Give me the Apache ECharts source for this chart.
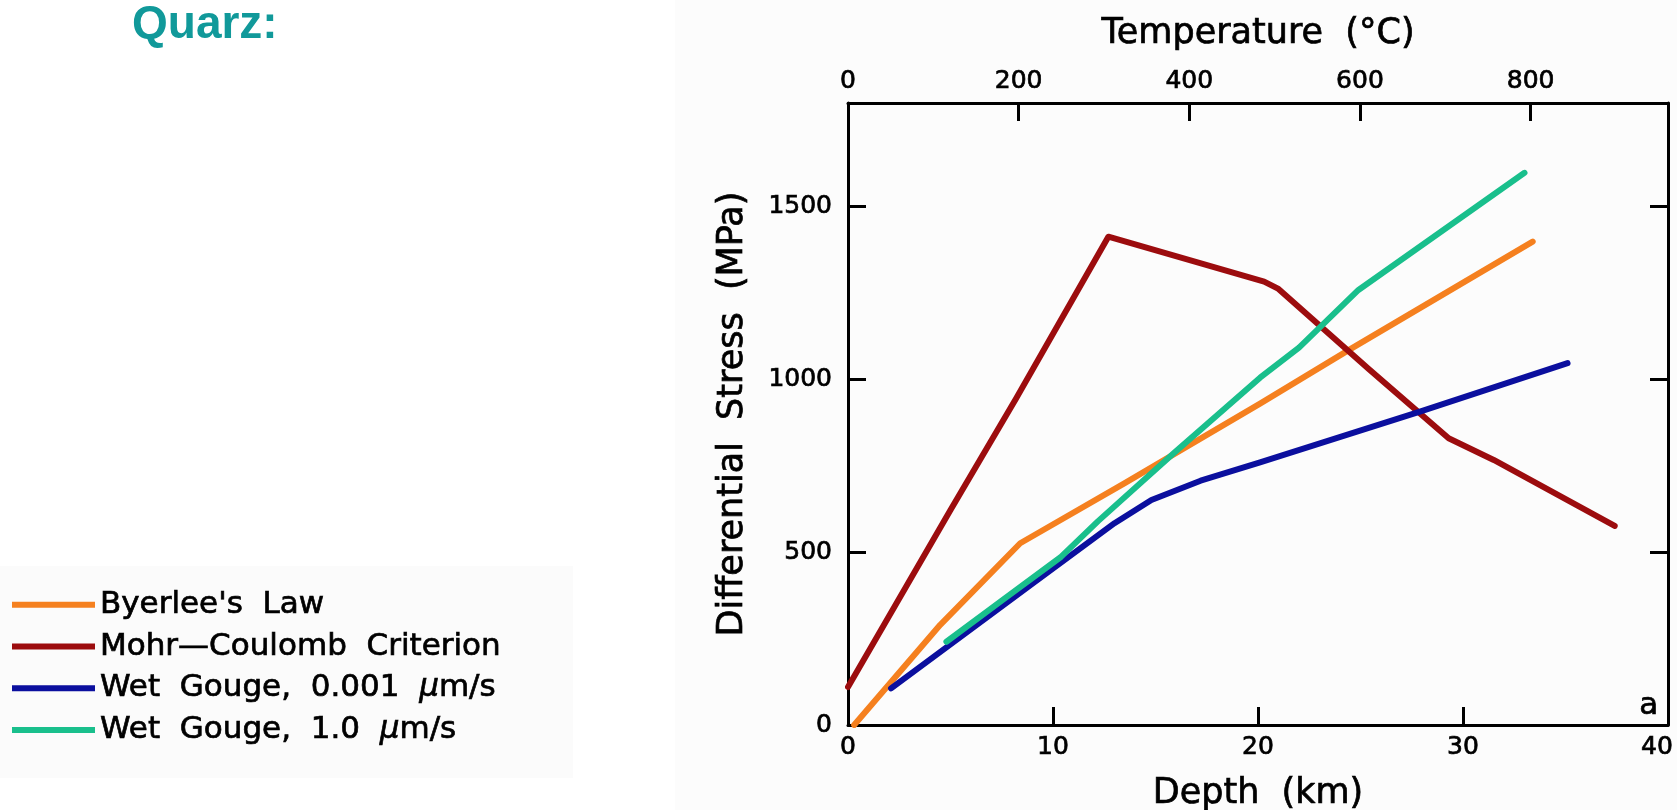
<!DOCTYPE html>
<html><head><meta charset="utf-8">
<style>html,body{margin:0;padding:0;background:#fff}#c{width:1677px;height:810px}</style>
<script src="https://cdn.jsdelivr.net/npm/echarts@6/dist/echarts.min.js"></script>
</head><body><div id="c"></div>
<script>
// ---- data ----
const seriesNames = ["Byerlee's Law", "Mohr—Coulomb Criterion", "Wet Gouge, 0.001 μm/s", "Wet Gouge, 1.0 μm/s"];
const seriesColors = ["#f5801f", "#9c0c0e", "#0b0f9e", "#19bf8c"];

const byerleeDepth  = [0.3, 4.5, 8.4, 13.5, 20.1, 24.4, 33.4];
const byerleeStress = [0, 290, 526, 700, 930, 1084, 1399];

const mohrDepth  = [0, 2.5, 5.0, 8.2, 12.7, 20.3, 21.0, 25.4, 29.3, 31.5, 37.4];
const mohrStress = [110, 366, 622, 945, 1413, 1283, 1262, 1030, 830, 767, 576];

const gouge001Depth  = [2.1, 9.0, 13.0, 14.8, 17.2, 20.1, 27.9, 35.1];
const gouge001Stress = [106, 409, 584, 651, 707, 760, 907, 1047];

const gouge1Depth  = [4.8, 7.5, 10.4, 12.2, 15.9, 20.1, 22.0, 24.9, 33.0];
const gouge1Stress = [241, 360, 487, 590, 787, 1005, 1092, 1259, 1598];

const depthRange  = [0, 40];   const depthStep = 10;
const stressRange = [0, 1800]; const stressStep = 500;
const tempRange   = [0, 961];  const tempStep = 200;

const pairs = (xs, ys) => xs.map((x, i) => [x, ys[i]]);

const font = 'DejaVu Sans';
const heavy = { textBorderColor: '#000', textBorderWidth: 0.7 };
const axisCommon = {
  type: 'value',
  axisLine: { onZero: false, lineStyle: { color: '#000', width: 3 } },
  axisTick: { inside: true, length: 18, lineStyle: { color: '#000', width: 3 } },
  axisLabel: Object.assign({ color: '#000', fontSize: 25, fontFamily: font }, heavy),
  splitLine: { show: false },
  nameTextStyle: Object.assign({ color: '#000', fontSize: 35, fontFamily: font }, heavy)
};

const chart = echarts.init(document.getElementById('c'), null, { renderer: 'canvas' });

const legendRich = {
  t: Object.assign({ fontFamily: font, fontSize: 31, color: '#000' }, heavy),
  u: Object.assign({ fontFamily: font, fontSize: 31, color: '#000', fontStyle: 'italic' }, heavy)
};
function legendLabel(name) {
  const spaced = name.replace(/ /g, '  ');
  if (spaced.indexOf('μ') >= 0) {
    const parts = spaced.split('μ');
    return '{t|' + parts[0] + '}{u|μ}{t|' + parts[1] + '}';
  }
  return '{t|' + spaced + '}';
}

const data = [
  pairs(byerleeDepth, byerleeStress),
  pairs(mohrDepth, mohrStress),
  pairs(gouge001Depth, gouge001Stress),
  pairs(gouge1Depth, gouge1Stress)
];
// drawing order: orange, red, green, blue (blue on top)
const drawOrder = [0, 1, 3, 2];

chart.setOption({
  animation: false,
  backgroundColor: '#ffffff',
  grid: { left: 848, right: 9, top: 103, bottom: 85, containLabel: false, outerBoundsMode: 'none' },
  legend: {
    data: seriesNames,
    orient: 'vertical',
    left: 7, top: 584,
    icon: 'rect',
    itemWidth: 83, itemHeight: 6, itemGap: 10,
    formatter: legendLabel,
    textStyle: { fontFamily: font, fontSize: 31, color: '#000', lineHeight: 30, rich: legendRich },
    selectedMode: false
  },
  xAxis: [
    Object.assign({}, axisCommon, {
      position: 'bottom', min: depthRange[0], max: depthRange[1], interval: depthStep,
      axisLabel: Object.assign({}, axisCommon.axisLabel, { margin: 10,
        formatter: v => (v === depthRange[1] ? '{e|' + v + '}' : String(v)),
        rich: { e: Object.assign({ fontFamily: font, fontSize: 25, color: '#000', padding: [0, 22, 0, 0] }, heavy) } }),
      name: 'Depth  (km)', nameLocation: 'middle', nameGap: 51
    }),
    Object.assign({}, axisCommon, {
      position: 'top', min: tempRange[0], max: tempRange[1], interval: tempStep,
      axisLabel: Object.assign({}, axisCommon.axisLabel, { margin: 9,
        formatter: v => (v % tempStep === 0 ? String(v) : '') }),
      name: 'Temperature  (°C)', nameLocation: 'middle', nameGap: 52
    })
  ],
  yAxis: [
    Object.assign({}, axisCommon, {
      position: 'left', min: stressRange[0], max: stressRange[1], interval: stressStep,
      axisLabel: Object.assign({}, axisCommon.axisLabel, { margin: 16,
        formatter: v => (v % stressStep === 0 ? String(v) : '') }),
      name: 'Differential  Stress  (MPa)', nameLocation: 'middle', nameGap: 98, nameRotate: 90
    }),
    Object.assign({}, axisCommon, {
      position: 'right', min: stressRange[0], max: stressRange[1], interval: stressStep,
      axisLabel: { show: false }
    })
  ],
  series: drawOrder.map(i => ({
    name: seriesNames[i],
    type: 'line',
    xAxisIndex: 0, yAxisIndex: 0,
    data: data[i],
    symbol: 'none',
    color: seriesColors[i],
    itemStyle: { color: seriesColors[i] },
    lineStyle: { color: seriesColors[i], width: 6, cap: 'round', join: 'round' },
    z: 3 + i
  })),
  graphic: [
    { type: 'rect', z: -10, silent: true, shape: { x: 0, y: 566, width: 573, height: 212 }, style: { fill: '#fbfbfb' } },
    { type: 'rect', z: -10, silent: true, shape: { x: 675, y: 0, width: 1002, height: 810 }, style: { fill: '#fcfcfc' } },
    { type: 'text', left: 132, top: 2, silent: true,
      style: { text: 'Quarz:', fill: '#11999a', font: 'bold 46px "Liberation Sans", Arial, sans-serif' } },
    { type: 'text', left: 1639, top: 690, silent: true,
      style: { text: 'a', fill: '#000', font: '31px "DejaVu Sans"', stroke: '#000', lineWidth: 0.7 } }
  ]
});
</script></body></html>
